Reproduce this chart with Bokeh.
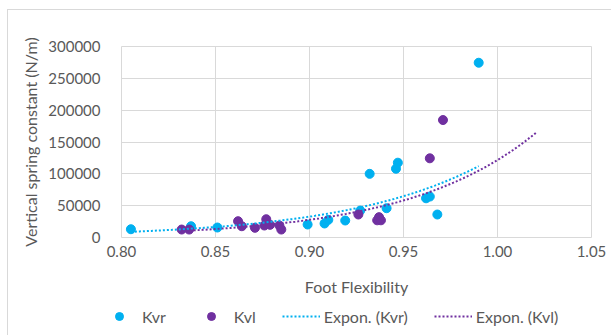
import numpy as np
from bokeh.plotting import figure
from bokeh.layouts import column, row
from bokeh.models import (ColumnDataSource, FixedTicker, NumeralTickFormatter,
                          Legend, LegendItem, Range1d)
from bokeh.embed import file_html
from bokeh.resources import INLINE

# Right and left foot: flexibility vs vertical spring constant (N/m)
kvr_x = [0.805, 0.837, 0.851, 0.899, 0.908, 0.910, 0.919, 0.927, 0.932, 0.941,
         0.946, 0.947, 0.962, 0.964, 0.968, 0.990]
kvr_y = [13000, 17700, 15700, 20400, 22000, 27700, 26700, 42300, 100000, 46000,
         108000, 117500, 61600, 64300, 36100, 274500]

kvl_x = [0.832, 0.836, 0.862, 0.864, 0.871, 0.876, 0.877, 0.879, 0.884, 0.885,
         0.926, 0.936, 0.937, 0.938, 0.964, 0.971]
kvl_y = [12500, 12500, 25600, 17700, 15200, 18800, 28700, 19900, 18800, 12500,
         36100, 27000, 32000, 27000, 124400, 184500]

x_ticks = [0.80, 0.85, 0.90, 0.95, 1.00, 1.05]
y_ticks = [0, 50000, 100000, 150000, 200000, 250000, 300000]

KVR_COLOR = "#00B0F0"
KVL_COLOR = "#7030A0"
TEXT_COLOR = "#595959"
GRID_COLOR = "#D9D9D9"
FONT = "Lato"
BORDER = "1px solid #D9D9D9"


def expon_trend(xs, ys, x_start, x_end, n=120):
    """Exponential trendline y = a*exp(b*x), least squares on ln(y)."""
    b, ln_a = np.polyfit(np.asarray(xs), np.log(np.asarray(ys)), 1)
    tx = np.linspace(x_start, x_end, n)
    return tx, np.exp(ln_a + b * tx)


# Kvr trend spans its data; Kvl trend is forecast 0.05 forward
tr_x, tr_y = expon_trend(kvr_x, kvr_y, min(kvr_x), max(kvr_x))
tl_x, tl_y = expon_trend(kvl_x, kvl_y, min(kvl_x), max(kvl_x) + 0.05)

# ---- main scatter chart ----
p = figure(width=604, height=297, output_backend="svg", toolbar_location=None,
           x_range=Range1d(0.80, 1.05), y_range=Range1d(0, 300000),
           min_border_left=113, min_border_right=21, min_border_top=36,
           min_border_bottom=70)
p.styles = {"margin-left": "7px", "margin-top": "9px",
            "border-left": BORDER, "border-top": BORDER}
p.outline_line_color = GRID_COLOR
p.background_fill_color = "white"
p.border_fill_color = "white"

for ax in (p.xaxis[0], p.yaxis[0]):
    ax.axis_line_color = None
    ax.major_tick_line_color = None
    ax.minor_tick_line_color = None
    ax.major_label_text_color = TEXT_COLOR
    ax.major_label_text_font = FONT
    ax.major_label_text_font_size = "15px"
    ax.axis_label_text_color = TEXT_COLOR
    ax.axis_label_text_font = FONT
    ax.axis_label_text_font_size = "16px"
    ax.axis_label_text_font_style = "normal"

p.xaxis.ticker = FixedTicker(ticks=x_ticks)
p.xaxis.formatter = NumeralTickFormatter(format="0.00")
p.xaxis.axis_label = "Foot Flexibility"
p.xaxis.major_label_standoff = 2
p.xaxis.axis_label_standoff = 17

p.yaxis.ticker = FixedTicker(ticks=y_ticks)
p.yaxis.formatter = NumeralTickFormatter(format="0")
p.yaxis.axis_label = "Vertical spring constant (N/m)"
p.yaxis.major_label_standoff = 15
p.yaxis.axis_label_standoff = 5

p.xgrid.ticker = FixedTicker(ticks=x_ticks)
p.ygrid.ticker = FixedTicker(ticks=y_ticks)
p.xgrid.grid_line_color = GRID_COLOR
p.ygrid.grid_line_color = GRID_COLOR

src_r = ColumnDataSource(dict(x=kvr_x, y=kvr_y))
src_l = ColumnDataSource(dict(x=kvl_x, y=kvl_y))

p.scatter("x", "y", source=src_r, size=9, color=KVR_COLOR)
p.scatter("x", "y", source=src_l, size=9, color=KVL_COLOR)
p.line(tr_x, tr_y, line_color=KVR_COLOR, line_width=2, line_dash="2 2")
p.line(tl_x, tl_y, line_color=KVL_COLOR, line_width=2, line_dash="2 2")

# ---- legend strip under the chart (screen-unit frame, no axes) ----
lg = figure(width=604, height=29, output_backend="svg", toolbar_location=None,
            x_range=Range1d(0, 604), y_range=Range1d(0, 29),
            min_border=0, min_border_left=0, min_border_right=0,
            min_border_top=0, min_border_bottom=0,
            x_axis_type=None, y_axis_type=None)
lg.styles = {"margin-left": "7px", "border-left": BORDER}
lg.outline_line_color = None
lg.grid.visible = False
lg.border_fill_color = "white"

# legend swatches: proxy renderers holding a single empty (NaN) point
proxy = dict(x=[np.nan], y=[np.nan])
k_r = lg.scatter("x", "y", source=ColumnDataSource(proxy), size=8, color=KVR_COLOR)
k_l = lg.scatter("x", "y", source=ColumnDataSource(proxy), size=8, color=KVL_COLOR)
e_r = lg.line("x", "y", source=ColumnDataSource(proxy), line_color=KVR_COLOR,
              line_width=2, line_dash="2 2")
e_l = lg.line("x", "y", source=ColumnDataSource(proxy), line_color=KVL_COLOR,
              line_width=2, line_dash="2 2")

legend = Legend(items=[
    LegendItem(label="Kvr", renderers=[k_r]),
    LegendItem(label="Kvl", renderers=[k_l]),
    LegendItem(label="Expon. (Kvr)", renderers=[e_r]),
    LegendItem(label="Expon. (Kvl)", renderers=[e_l]),
], orientation="horizontal", location=(92, 9))
legend.glyph_width = 38
legend.glyph_height = 20
legend.label_standoff = 4
legend.spacing = 26
legend.padding = 0
legend.margin = 0
legend.border_line_alpha = 0
legend.background_fill_alpha = 0
legend.label_text_color = TEXT_COLOR
legend.label_text_font = FONT
legend.label_text_font_size = "16px"
lg.add_layout(legend, "center")

layout = column(p, row(lg, spacing=0), spacing=0)
open("out.html", "w").write(file_html(layout, INLINE))
